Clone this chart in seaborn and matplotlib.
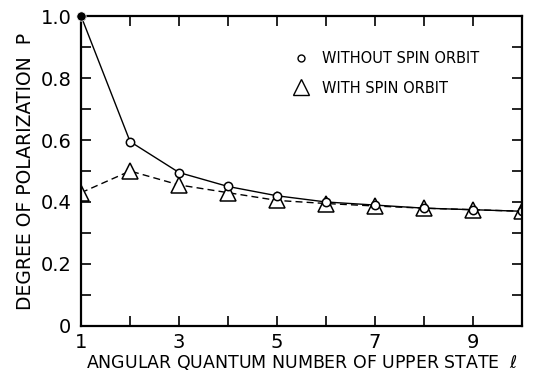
import matplotlib
matplotlib.use("Agg")
import matplotlib.pyplot as plt
import seaborn as sns
import pandas as pd
from matplotlib.lines import Line2D

l_values = [1, 2, 3, 4, 5, 6, 7, 8, 9, 10]
p_without = [1.0, 0.595, 0.495, 0.45, 0.42, 0.40, 0.39, 0.38, 0.375, 0.37]
p_with = [0.43, 0.50, 0.455, 0.43, 0.405, 0.395, 0.387, 0.38, 0.375, 0.37]
x_ticklabels = ["1", "", "3", "", "5", "", "7", "", "9", ""]
y_ticks = [0, 0.2, 0.4, 0.6, 0.8, 1.0]
y_ticklabels = ["0", "0.2", "0.4", "0.6", "0.8", "1.0"]

sns.set_style("ticks")
plt.rcParams["font.family"] = ["DejaVu Sans"]
plt.rcParams["text.color"] = "black"
plt.rcParams["axes.labelcolor"] = "black"
plt.rcParams["xtick.color"] = "black"
plt.rcParams["ytick.color"] = "black"
plt.rcParams["axes.edgecolor"] = "black"

fig = plt.figure(figsize=(5.37, 3.75), dpi=100)
ax = fig.add_axes([0.151, 0.131, 0.821, 0.826])

df_wo = pd.DataFrame({"l": l_values, "P": p_without})
df_w = pd.DataFrame({"l": l_values, "P": p_with})

sns.lineplot(data=df_w, x="l", y="P", ax=ax, color="black", lw=1.0,
             linestyle=(0, (5, 3)), marker="^", markersize=11,
             markerfacecolor="white", markeredgecolor="black", markeredgewidth=1.1)
sns.lineplot(data=df_wo, x="l", y="P", ax=ax, color="black", lw=1.0,
             marker="o", markersize=6,
             markerfacecolor="white", markeredgecolor="black", markeredgewidth=1.1)
sns.scatterplot(data=df_wo.iloc[:1], x="l", y="P", ax=ax, color="black",
                s=45, zorder=5, clip_on=False)

ax.set_xlim(1, 10)
ax.set_ylim(0, 1.0)
ax.set_xticks(l_values)
ax.set_xticklabels(x_ticklabels)
ax.set_yticks(y_ticks)
ax.set_yticklabels(y_ticklabels)
ax.set_yticks([0.1, 0.3, 0.5, 0.7, 0.9], minor=True)
ax.tick_params(axis="both", which="both", direction="in", top=True, right=True,
               labelsize=14, width=1.2, colors="black")
ax.tick_params(axis="both", which="major", length=7)
ax.tick_params(axis="y", which="minor", length=7)
ax.tick_params(axis="x", pad=5)
ax.tick_params(axis="y", pad=7)
for s in ax.spines.values():
    s.set_linewidth(1.6)
    s.set_visible(True)
    s.set_color("black")

ax.set_xlabel("ANGULAR QUANTUM NUMBER OF UPPER STATE  $\\ell$", fontsize=12.5,
              labelpad=1, color="black")
ax.set_ylabel("DEGREE OF POLARIZATION  P", fontsize=13.5, labelpad=4, color="black")

handles = [
    Line2D([], [], linestyle="none", marker="o", markersize=5,
           markerfacecolor="white", markeredgecolor="black"),
    Line2D([], [], linestyle="none", marker="^", markersize=11,
           markerfacecolor="white", markeredgecolor="black"),
]
leg = ax.legend(handles, ["WITHOUT SPIN ORBIT", "WITH SPIN ORBIT"], loc="upper left",
                bbox_to_anchor=(0.45, 0.93), frameon=False, fontsize=10.5,
                handletextpad=0.8, labelspacing=1.0, handlelength=1.2)
for t in leg.get_texts():
    t.set_color("black")

fig.savefig("out.png", dpi=100)
